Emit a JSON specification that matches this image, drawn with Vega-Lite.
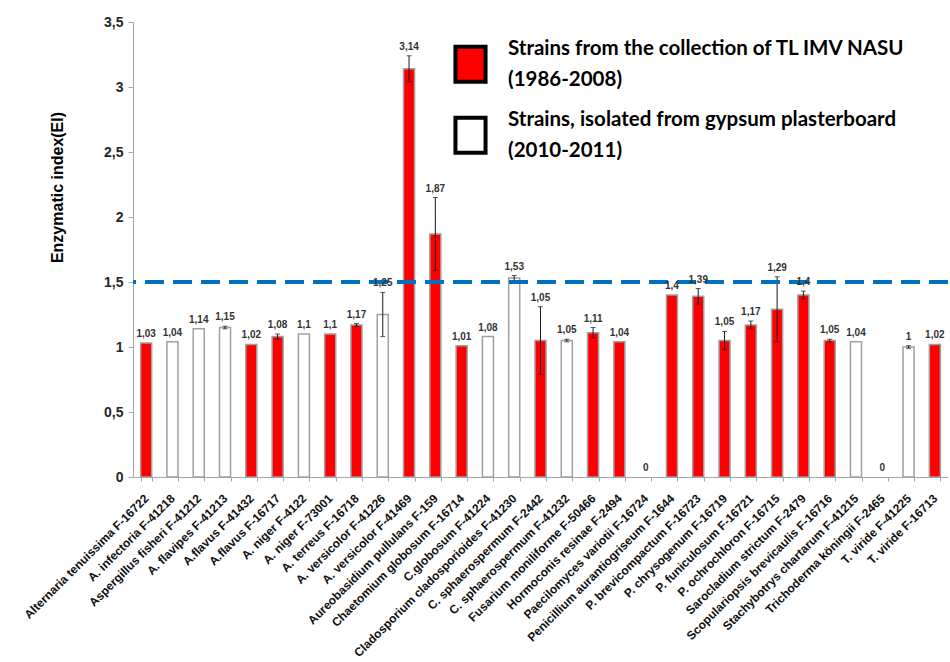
{
  "$schema": "https://vega.github.io/schema/vega-lite/v6.json",
  "width": 815,
  "height": 455,
  "autosize": {"type": "none"},
  "padding": {"left": 133, "top": 22, "right": 2, "bottom": 185},
  "background": "white",
  "config": {
    "locale": {"number": {"decimal": ",", "thousands": " ", "grouping": [3], "currency": ["", ""]}},
    "view": {"stroke": null},
    "font": "Liberation Sans",
    "style": {"guide-label": {"lineHeight": 31}}
  },
  "data": {
    "values": [
      {"strain": "Alternaria tenuissima  F-16722", "ei": 1.03, "lo": 1.03, "hi": 1.03, "group": "collection"},
      {"strain": "A. infectoria F-41218", "ei": 1.04, "lo": 1.04, "hi": 1.04, "group": "gypsum"},
      {"strain": "Aspergillus fisheri F-41212", "ei": 1.14, "lo": 1.14, "hi": 1.14, "group": "gypsum"},
      {"strain": "A. flavipes F-41213", "ei": 1.15, "lo": 1.14, "hi": 1.16, "group": "gypsum"},
      {"strain": "A.flavus F-41432", "ei": 1.02, "lo": 1.02, "hi": 1.02, "group": "collection"},
      {"strain": "A.flavus F-16717", "ei": 1.08, "lo": 1.06, "hi": 1.1, "group": "collection"},
      {"strain": "A. niger F-4122", "ei": 1.1, "lo": 1.1, "hi": 1.1, "group": "gypsum"},
      {"strain": "A. niger F-73001", "ei": 1.1, "lo": 1.1, "hi": 1.1, "group": "collection"},
      {"strain": "A. terreus F-16718", "ei": 1.17, "lo": 1.16, "hi": 1.18, "group": "collection"},
      {"strain": "A. versicolor F-41226", "ei": 1.25, "lo": 1.08, "hi": 1.42, "group": "gypsum"},
      {"strain": "A. versicolor F-41469", "ei": 3.14, "lo": 3.04, "hi": 3.24, "group": "collection"},
      {"strain": "Aureobasidium pullulans F-159", "ei": 1.87, "lo": 1.59, "hi": 2.15, "group": "collection"},
      {"strain": "Chaetomium globosum F-16714", "ei": 1.01, "lo": 1.01, "hi": 1.01, "group": "collection"},
      {"strain": "C.globosum F-41224", "ei": 1.08, "lo": 1.08, "hi": 1.08, "group": "gypsum"},
      {"strain": "Cladosporium cladosporioides F-41230", "ei": 1.53, "lo": 1.51, "hi": 1.55, "group": "gypsum"},
      {"strain": "C. sphaerospermum F-2442", "ei": 1.05, "lo": 0.79, "hi": 1.31, "group": "collection"},
      {"strain": "C. sphaerospermum F-41232", "ei": 1.05, "lo": 1.04, "hi": 1.06, "group": "gypsum"},
      {"strain": "Fusarium moniliforme F-50466", "ei": 1.11, "lo": 1.07, "hi": 1.15, "group": "collection"},
      {"strain": "Hormoconis resinae F-2494", "ei": 1.04, "lo": 1.04, "hi": 1.04, "group": "collection"},
      {"strain": "Paecilomyces variotii F-16724", "ei": 0, "lo": 0, "hi": 0, "group": "collection"},
      {"strain": "Penicillium aurantiogriseum F-1644", "ei": 1.4, "lo": 1.4, "hi": 1.4, "group": "collection"},
      {"strain": "P. brevicompactum  F-16723", "ei": 1.39, "lo": 1.33, "hi": 1.45, "group": "collection"},
      {"strain": "P. chrysogenum F-16719", "ei": 1.05, "lo": 0.98, "hi": 1.12, "group": "collection"},
      {"strain": "P. funiculosum F-16721", "ei": 1.17, "lo": 1.14, "hi": 1.2, "group": "collection"},
      {"strain": "P. ochrochloron  F-16715", "ei": 1.29, "lo": 1.04, "hi": 1.54, "group": "collection"},
      {"strain": "Sarocladium strictum F-2479", "ei": 1.4, "lo": 1.37, "hi": 1.43, "group": "collection"},
      {"strain": "Scopulariopsis brevicaulis F-16716", "ei": 1.05, "lo": 1.04, "hi": 1.06, "group": "collection"},
      {"strain": "Stachybotrys chartarum F-41215", "ei": 1.04, "lo": 1.04, "hi": 1.04, "group": "gypsum"},
      {"strain": "Trichoderma köningii F-2465", "ei": 0, "lo": 0, "hi": 0, "group": "gypsum"},
      {"strain": "T. viride F-41225", "ei": 1, "lo": 0.99, "hi": 1.01, "group": "gypsum"},
      {"strain": "T. viride F-16713", "ei": 1.02, "lo": 1.02, "hi": 1.02, "group": "collection"}
    ]
  },
  "encoding": {
    "x": {
      "field": "strain",
      "type": "nominal",
      "sort": null,
      "scale": {"paddingInner": 0.58, "paddingOuter": 0.29},
      "axis": {
        "title": null,
        "labelAngle": -45,
        "labelAlign": "right",
        "labelBaseline": "middle",
        "labelFontSize": 12,
        "labelFontWeight": "bold",
        "labelColor": "#111111",
        "labelPadding": 15,
        "labelLimit": 0,
        "labelOverlap": false,
        "tickBand": "extent",
        "tickSize": 4,
        "tickColor": "#a6a6a6",
        "domainColor": "#a6a6a6"
      }
    }
  },
  "layer": [
    {
      "mark": {"type": "bar", "stroke": "#a0a0a0", "strokeWidth": 1.5},
      "encoding": {
        "y": {
          "field": "ei",
          "type": "quantitative",
          "scale": {"domain": [0, 3.5]},
          "axis": {
            "title": "Enzymatic index(EI)",
            "titleFontSize": 16,
            "titleFontWeight": "bold",
            "titleColor": "black",
            "titleX": -76,
            "titleY": 165,
            "titleAlign": "center",
            "titleBaseline": "middle",
            "values": [0, 0.5, 1, 1.5, 2, 2.5, 3, 3.5],
            "format": "~g",
            "labelFontSize": 14,
            "labelFontWeight": "bold",
            "labelColor": "#262626",
            "labelPadding": 5,
            "tickSize": 5,
            "tickColor": "#a6a6a6",
            "domainColor": "#a6a6a6",
            "grid": false
          }
        },
        "strokeOpacity": {"condition": {"test": "datum.ei == 0", "value": 0}, "value": 1},
        "fill": {
          "field": "group",
          "type": "nominal",
          "scale": {"domain": ["collection", "gypsum"], "range": ["#FF0000", "#FFFFFF"]},
          "legend": {
            "orient": "none",
            "legendX": 318,
            "legendY": 7,
            "title": null,
            "symbolType": "M -0.86 -0.1 L 0.86 -0.1 L 0.86 1.9 L -0.86 1.9 Z",
            "symbolSize": 1225,
            "symbolStrokeColor": "black",
            "symbolStrokeWidth": 4,
            "symbolOpacity": 1,
            "labelFont": "Lato",
            "labelFontSize": 20.5,
            "labelFontWeight": "bold",
            "labelColor": "black",
            "labelLimit": 0,
            "labelOffset": 18,
            "rowPadding": 10,
            "labelExpr": "datum.value == 'collection' ? ['Strains from the collection of TL IMV NASU', '(1986-2008)'] : ['Strains, isolated from gypsum plasterboard', '(2010-2011)']"
          }
        }
      }
    },
    {
      "transform": [{"filter": "datum.hi > datum.lo"}],
      "mark": {"type": "rule", "color": "#1a1a1a", "strokeWidth": 1},
      "encoding": {
        "y": {"field": "lo", "type": "quantitative"},
        "y2": {"field": "hi"}
      }
    },
    {
      "transform": [{"filter": "datum.hi > datum.lo"}],
      "mark": {"type": "tick", "color": "#1a1a1a", "size": 5, "thickness": 1},
      "encoding": {"y": {"field": "lo", "type": "quantitative"}}
    },
    {
      "transform": [{"filter": "datum.hi > datum.lo"}],
      "mark": {"type": "tick", "color": "#1a1a1a", "size": 5, "thickness": 1},
      "encoding": {"y": {"field": "hi", "type": "quantitative"}}
    },
    {
      "mark": {"type": "rule", "color": "#0070C0", "strokeWidth": 4, "strokeDash": [19, 9]},
      "encoding": {"y": {"datum": 1.5}, "x": null}
    },
    {
      "mark": {"type": "text", "fontSize": 10, "fontWeight": "bold", "color": "#333333", "baseline": "middle", "dy": -9},
      "encoding": {
        "y": {"field": "hi", "type": "quantitative"},
        "text": {"field": "ei", "type": "quantitative", "format": "~g"}
      }
    }
  ]
}
